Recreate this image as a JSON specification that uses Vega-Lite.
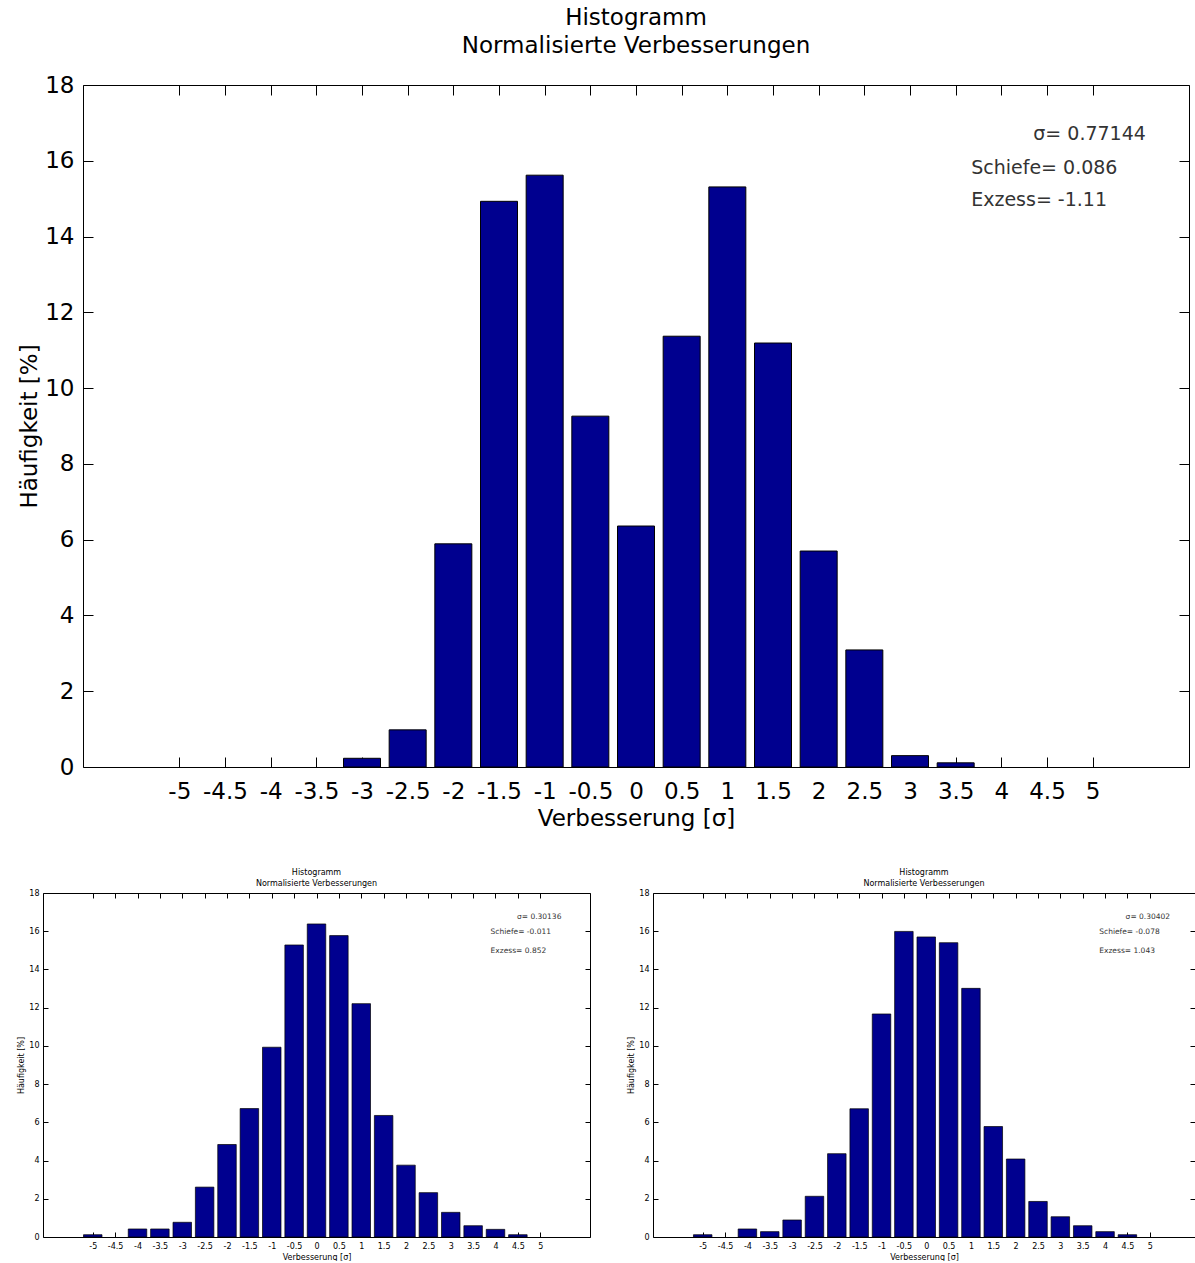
{
  "$schema": "https://vega.github.io/schema/vega-lite/v6.json",
  "padding": {"left": 17, "top": 7, "right": 0, "bottom": 0},
  "spacing": 39,
  "config": {
    "font": "DejaVu Sans",
    "view": {"stroke": null},
    "axis": {"domainColor": "black", "tickColor": "black", "labelColor": "black", "titleColor": "black", "grid": false, "labelFlush": false, "labelOverlap": false, "labelBound": false, "titleFontWeight": "normal", "domainWidth": 1, "tickWidth": 1},
    "title": {"fontWeight": "normal", "color": "black", "frame": "group", "anchor": "middle"}
  },
  "datasets": {
    "oben": [
      {"x": -3, "pct": 0.23}, {"x": -2.5, "pct": 0.98}, {"x": -2, "pct": 5.89}, {"x": -1.5, "pct": 14.93},
      {"x": -1, "pct": 15.62}, {"x": -0.5, "pct": 9.26}, {"x": 0, "pct": 6.36}, {"x": 0.5, "pct": 11.37},
      {"x": 1, "pct": 15.31}, {"x": 1.5, "pct": 11.19}, {"x": 2, "pct": 5.7}, {"x": 2.5, "pct": 3.09},
      {"x": 3, "pct": 0.3}, {"x": 3.5, "pct": 0.11}
    ],
    "links": [
      {"x": -5, "pct": 0.12}, {"x": -4, "pct": 0.42}, {"x": -3.5, "pct": 0.42},
      {"x": -3, "pct": 0.77}, {"x": -2.5, "pct": 2.61}, {"x": -2, "pct": 4.84}, {"x": -1.5, "pct": 6.72},
      {"x": -1, "pct": 9.93}, {"x": -0.5, "pct": 15.28}, {"x": 0, "pct": 16.38}, {"x": 0.5, "pct": 15.77},
      {"x": 1, "pct": 12.21}, {"x": 1.5, "pct": 6.36}, {"x": 2, "pct": 3.76}, {"x": 2.5, "pct": 2.32},
      {"x": 3, "pct": 1.29}, {"x": 3.5, "pct": 0.59}, {"x": 4, "pct": 0.4}, {"x": 4.5, "pct": 0.12}
    ],
    "rechts": [
      {"x": -5, "pct": 0.12}, {"x": -4, "pct": 0.42}, {"x": -3.5, "pct": 0.28},
      {"x": -3, "pct": 0.89}, {"x": -2.5, "pct": 2.13}, {"x": -2, "pct": 4.36}, {"x": -1.5, "pct": 6.71},
      {"x": -1, "pct": 11.67}, {"x": -0.5, "pct": 15.99}, {"x": 0, "pct": 15.7}, {"x": 0.5, "pct": 15.4},
      {"x": 1, "pct": 13.01}, {"x": 1.5, "pct": 5.78}, {"x": 2, "pct": 4.08}, {"x": 2.5, "pct": 1.86},
      {"x": 3, "pct": 1.06}, {"x": 3.5, "pct": 0.59}, {"x": 4, "pct": 0.28}, {"x": 4.5, "pct": 0.12}
    ],
    "oben_txt": [
      {"x": 4.35, "y": 16.71, "label": "σ= 0.77144"},
      {"x": 3.67, "y": 15.81, "label": "Schiefe= 0.086"},
      {"x": 3.67, "y": 14.97, "label": "Exzess= -1.11"}
    ],
    "links_txt": [
      {"x": 4.48, "y": 16.75, "label": "σ= 0.30136"},
      {"x": 3.89, "y": 15.97, "label": "Schiefe= -0.011"},
      {"x": 3.89, "y": 14.97, "label": "Exzess= 0.852"}
    ],
    "rechts_txt": [
      {"x": 4.46, "y": 16.75, "label": "σ= 0.30402"},
      {"x": 3.87, "y": 15.97, "label": "Schiefe= -0.078"},
      {"x": 3.87, "y": 14.97, "label": "Exzess= 1.043"}
    ]
  },
  "vconcat": [
    {
      "width": 1146,
      "height": 682,
      "title": {"text": ["Histogramm", "Normalisierte Verbesserungen"], "fontSize": 23, "lineHeight": 28, "offset": 16, "dx": 20},
      "resolve": {"axis": {"x": "independent", "y": "independent"}},
      "layer": [
        {
          "data": {"name": "oben"},
          "mark": {"type": "bar", "width": 37, "fill": "#00008F", "stroke": "black", "strokeWidth": 1},
          "encoding": {
            "x": {"field": "x", "type": "quantitative", "scale": {"domain": [-6, 6], "range": [40, 1146], "nice": false, "zero": false},
              "axis": {"orient": "bottom", "values": [-5, -4.5, -4, -3.5, -3, -2.5, -2, -1.5, -1, -0.5, 0, 0.5, 1, 1.5, 2, 2.5, 3, 3.5, 4, 4.5, 5],
                "labelExpr": "'' + datum.value", "labelFontSize": 23, "tickSize": -10, "labelPadding": 23,
                "title": "Verbesserung [σ]", "titleFontSize": 23, "titlePadding": 4}},
            "y": {"field": "pct", "type": "quantitative", "scale": {"domain": [0, 18], "nice": false},
              "axis": {"orient": "left", "offset": -40, "values": [0, 2, 4, 6, 8, 10, 12, 14, 16, 18], "labelFontSize": 23, "tickSize": -10, "labelPadding": 19,
                "title": "Häufigkeit [%]", "titleFontSize": 23, "titlePadding": 3}}
          }
        },
        {
          "data": {"name": "oben_txt"},
          "mark": {"type": "text", "align": "left", "baseline": "middle", "fontSize": 19, "color": "#333333"},
          "encoding": {
            "x": {"field": "x", "type": "quantitative",
              "axis": {"orient": "top", "values": [-5, -4.5, -4, -3.5, -3, -2.5, -2, -1.5, -1, -0.5, 0, 0.5, 1, 1.5, 2, 2.5, 3, 3.5, 4, 4.5, 5], "labels": false, "title": null, "tickSize": -10}},
            "y": {"field": "y", "type": "quantitative",
              "axis": {"orient": "right", "values": [0, 2, 4, 6, 8, 10, 12, 14, 16, 18], "labels": false, "title": null, "tickSize": -10}},
            "text": {"field": "label"}
          }
        }
      ]
    },
    {
      "spacing": 36,
      "hconcat": [
        {
          "width": 547,
          "height": 344,
          "title": {"text": ["Histogramm", "Normalisierte Verbesserungen"], "fontSize": 8, "lineHeight": 11, "offset": 1},
          "resolve": {"axis": {"x": "independent", "y": "independent"}},
          "layer": [
            {
              "data": {"name": "links"},
              "mark": {"type": "bar", "width": 18.5, "fill": "#00008F", "stroke": "black", "strokeWidth": 0.7},
              "encoding": {
                "x": {"field": "x", "type": "quantitative", "scale": {"domain": [-6, 6], "nice": false, "zero": false},
                  "axis": {"orient": "bottom", "values": [-5, -4.5, -4, -3.5, -3, -2.5, -2, -1.5, -1, -0.5, 0, 0.5, 1, 1.5, 2, 2.5, 3, 3.5, 4, 4.5, 5],
                    "labelExpr": "'' + datum.value", "labelFontSize": 8, "tickSize": -5, "labelPadding": 10,
                    "title": "Verbesserung [σ]", "titleFontSize": 8, "titlePadding": 3}},
                "y": {"field": "pct", "type": "quantitative", "scale": {"domain": [0, 18], "nice": false},
                  "axis": {"orient": "left", "values": [0, 2, 4, 6, 8, 10, 12, 14, 16, 18], "labelFontSize": 8, "tickSize": -5, "labelPadding": 9,
                    "title": "Häufigkeit [%]", "titleFontSize": 8, "titlePadding": 3}}
              }
            },
            {
              "data": {"name": "links_txt"},
              "mark": {"type": "text", "align": "left", "baseline": "middle", "fontSize": 7.5, "color": "#333333"},
              "encoding": {
                "x": {"field": "x", "type": "quantitative",
                  "axis": {"orient": "top", "values": [-5, -4.5, -4, -3.5, -3, -2.5, -2, -1.5, -1, -0.5, 0, 0.5, 1, 1.5, 2, 2.5, 3, 3.5, 4, 4.5, 5], "labels": false, "title": null, "tickSize": -5}},
                "y": {"field": "y", "type": "quantitative",
                  "axis": {"orient": "right", "values": [0, 2, 4, 6, 8, 10, 12, 14, 16, 18], "labels": false, "title": null, "tickSize": -5}},
                "text": {"field": "label"}
              }
            }
          ]
        },
        {
          "width": 542,
          "height": 344,
          "title": {"text": ["Histogramm", "Normalisierte Verbesserungen"], "fontSize": 8, "lineHeight": 11, "offset": 1},
          "resolve": {"axis": {"x": "independent", "y": "independent"}},
          "layer": [
            {
              "data": {"name": "rechts"},
              "mark": {"type": "bar", "width": 18.5, "fill": "#00008F", "stroke": "black", "strokeWidth": 0.7},
              "encoding": {
                "x": {"field": "x", "type": "quantitative", "scale": {"domain": [-6, 5.9], "nice": false, "zero": false},
                  "axis": {"orient": "bottom", "values": [-5, -4.5, -4, -3.5, -3, -2.5, -2, -1.5, -1, -0.5, 0, 0.5, 1, 1.5, 2, 2.5, 3, 3.5, 4, 4.5, 5],
                    "labelExpr": "'' + datum.value", "labelFontSize": 8, "tickSize": -5, "labelPadding": 10,
                    "title": "Verbesserung [σ]", "titleFontSize": 8, "titlePadding": 3}},
                "y": {"field": "pct", "type": "quantitative", "scale": {"domain": [0, 18], "nice": false},
                  "axis": {"orient": "left", "values": [0, 2, 4, 6, 8, 10, 12, 14, 16, 18], "labelFontSize": 8, "tickSize": -5, "labelPadding": 9,
                    "title": "Häufigkeit [%]", "titleFontSize": 8, "titlePadding": 3}}
              }
            },
            {
              "data": {"name": "rechts_txt"},
              "mark": {"type": "text", "align": "left", "baseline": "middle", "fontSize": 7.5, "color": "#333333"},
              "encoding": {
                "x": {"field": "x", "type": "quantitative",
                  "axis": {"orient": "top", "values": [-5, -4.5, -4, -3.5, -3, -2.5, -2, -1.5, -1, -0.5, 0, 0.5, 1, 1.5, 2, 2.5, 3, 3.5, 4, 4.5, 5], "labels": false, "title": null, "tickSize": -5}},
                "y": {"field": "y", "type": "quantitative",
                  "axis": {"orient": "right", "values": [0, 2, 4, 6, 8, 10, 12, 14, 16, 18], "labels": false, "title": null, "tickSize": -5}},
                "text": {"field": "label"}
              }
            }
          ]
        }
      ]
    }
  ]
}
